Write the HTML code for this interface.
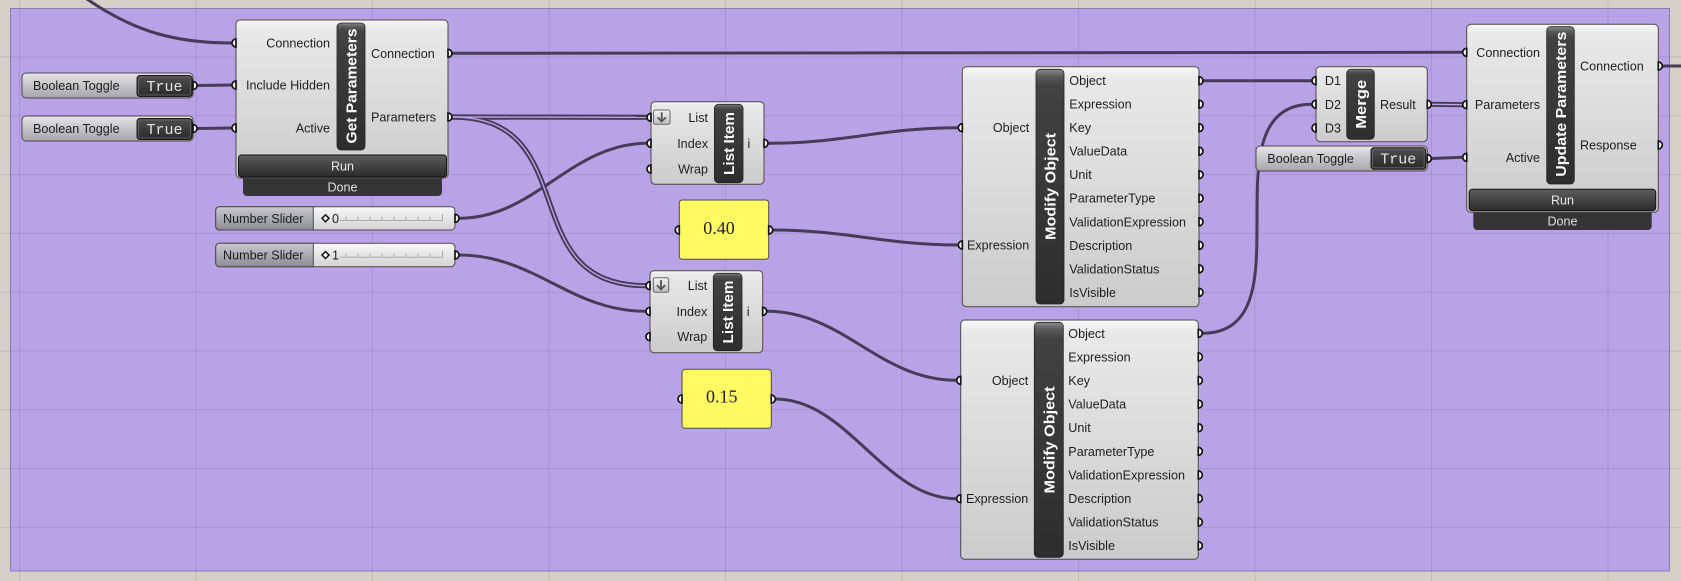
<!DOCTYPE html>
<html><head><meta charset="utf-8">
<style>
html,body{margin:0;padding:0;width:1681px;height:581px;overflow:hidden;background:#d4d0c8}
svg{display:block}
.l{font:12.6px "Liberation Sans",sans-serif;fill:#1e1e1e}
.t{font:bold 15px "Liberation Sans",sans-serif;fill:#fff}
.w{font:12.6px "Liberation Sans",sans-serif;fill:#e8e8e8}
.m{font:15px "Liberation Mono",monospace;fill:#e4e4e4}
.p{font:18px "Liberation Serif",serif;fill:#222}
</style></head><body>
<svg width="1681" height="581" viewBox="0 0 1681 581" xmlns="http://www.w3.org/2000/svg">
<defs>
<linearGradient id="gBody" x1="0" y1="0" x2="0" y2="1"><stop offset="0" stop-color="#f8f8f8"/><stop offset="0.05" stop-color="#e9e9e9"/><stop offset="1" stop-color="#cbcbcb"/></linearGradient>
<linearGradient id="gBar" x1="0" y1="0" x2="0" y2="1"><stop offset="0" stop-color="#8a8a8a"/><stop offset="0.03" stop-color="#5a5a5a"/><stop offset="0.07" stop-color="#424242"/><stop offset="1" stop-color="#2d2d2d"/></linearGradient>
<linearGradient id="gBtn" x1="0" y1="0" x2="0" y2="1"><stop offset="0" stop-color="#5e5e5e"/><stop offset="1" stop-color="#2a2a2a"/></linearGradient>
<linearGradient id="gTog" x1="0" y1="0" x2="0" y2="1"><stop offset="0" stop-color="#e6e6e8"/><stop offset="1" stop-color="#a4a4aa"/></linearGradient>
<linearGradient id="gTogV" x1="0" y1="0" x2="0" y2="1"><stop offset="0" stop-color="#505050"/><stop offset="1" stop-color="#282828"/></linearGradient>
<linearGradient id="gSlL" x1="0" y1="0" x2="0" y2="1"><stop offset="0" stop-color="#c8c8ce"/><stop offset="1" stop-color="#8c8c94"/></linearGradient>
<linearGradient id="gSlV" x1="0" y1="0" x2="0" y2="1"><stop offset="0" stop-color="#f8f8f8"/><stop offset="1" stop-color="#d2d2d2"/></linearGradient>
<linearGradient id="gIc" x1="0" y1="0" x2="0" y2="1"><stop offset="0" stop-color="#f4f4f4"/><stop offset="1" stop-color="#bdbdbd"/></linearGradient>
</defs>

<!-- background + group -->
<rect x="0" y="0" width="1681" height="581" fill="#d4d0c8"/>
<rect x="10.5" y="8.5" width="1659" height="562.5" fill="#b9a3e7" stroke="rgba(90,70,140,0.55)" stroke-width="1"/>

<!-- grid -->
<g stroke="rgba(0,0,0,0.09)" stroke-width="1">
<line x1="19.5" y1="0" x2="19.5" y2="581"/><line x1="196" y1="0" x2="196" y2="581"/><line x1="372.5" y1="0" x2="372.5" y2="581"/><line x1="549" y1="0" x2="549" y2="581"/><line x1="725.5" y1="0" x2="725.5" y2="581"/><line x1="902" y1="0" x2="902" y2="581"/><line x1="1078.5" y1="0" x2="1078.5" y2="581"/><line x1="1255" y1="0" x2="1255" y2="581"/><line x1="1431.5" y1="0" x2="1431.5" y2="581"/><line x1="1608" y1="0" x2="1608" y2="581"/>
<line x1="0" y1="57" x2="1681" y2="57"/><line x1="0" y1="115.8" x2="1681" y2="115.8"/><line x1="0" y1="174.6" x2="1681" y2="174.6"/><line x1="0" y1="233.4" x2="1681" y2="233.4"/><line x1="0" y1="292.2" x2="1681" y2="292.2"/><line x1="0" y1="351" x2="1681" y2="351"/><line x1="0" y1="409.8" x2="1681" y2="409.8"/><line x1="0" y1="468.6" x2="1681" y2="468.6"/><line x1="0" y1="527.4" x2="1681" y2="527.4"/>
</g>

<!-- wires -->
<g fill="none" stroke="#463c58" stroke-width="3" stroke-linecap="round">
<path d="M84,-3 C135,33 178,43 232,43"/>
<path d="M197,85.5 L232,85"/>
<path d="M197,128.5 L232,128"/>
<path d="M452,53.3 L1462.7,52.3"/>
<path d="M459,218.3 C535,218.3 571,143.3 647,143.3"/>
<path d="M459,255 C535,255 570,311.3 646,311.3"/>
<path d="M768,143.3 C845,143.3 882,127.7 958.3,127.7"/>
<path d="M772.7,230 C847,230 884,245 958.3,245"/>
<path d="M766.7,311.3 C844,311.3 879,380.3 956.7,380.3"/>
<path d="M775.3,399 C848,399 884,498.7 956.7,498.7"/>
<path d="M1203,80.7 L1312,80.7"/>
<path d="M1202.3,333.3 C1312,333.3 1202,104.3 1312,104.3"/>
<path d="M1431.3,158.5 L1462.7,157.3"/>
<path d="M1662.3,66 L1685,66"/>
</g>
<g fill="none" stroke="#463c58" stroke-width="5.2">
<path d="M452,117 L647,117.3"/>
<path d="M452,117 C587,117 511,285.7 646,285.7"/>
<path d="M1431.3,104.3 L1462.7,104.7"/>
</g>
<g fill="none" stroke="#b9a3e7" stroke-width="1.4">
<path d="M452,117 L647,117.3"/>
<path d="M452,117 C587,117 511,285.7 646,285.7"/>
<path d="M1431.3,104.3 L1462.7,104.7"/>
</g>

<!-- Boolean toggles -->
<g>
<rect x="22" y="73" width="171" height="25" rx="4" fill="url(#gTog)" stroke="#4a4a4a"/>
<text class="l" x="33" y="90">Boolean Toggle</text>
<rect x="137" y="75.5" width="55" height="21" rx="3" fill="url(#gTogV)" stroke="#1a1a1a"/>
<rect x="138.5" y="77" width="52" height="18" rx="2" fill="none" stroke="#6a6a6a" stroke-width="0.8"/>
<text class="m" x="164.5" y="91" text-anchor="middle">True</text>

<rect x="22" y="116" width="171" height="25" rx="4" fill="url(#gTog)" stroke="#4a4a4a"/>
<text class="l" x="33" y="133">Boolean Toggle</text>
<rect x="137" y="118.5" width="55" height="21" rx="3" fill="url(#gTogV)" stroke="#1a1a1a"/>
<rect x="138.5" y="120" width="52" height="18" rx="2" fill="none" stroke="#6a6a6a" stroke-width="0.8"/>
<text class="m" x="164.5" y="134" text-anchor="middle">True</text>

<rect x="1256" y="146" width="171.3" height="25" rx="4" fill="url(#gTog)" stroke="#4a4a4a"/>
<text class="l" x="1267.3" y="163">Boolean Toggle</text>
<rect x="1371" y="147.7" width="54.7" height="21.6" rx="3" fill="url(#gTogV)" stroke="#1a1a1a"/>
<rect x="1372.5" y="149.2" width="51.7" height="18.6" rx="2" fill="none" stroke="#6a6a6a" stroke-width="0.8"/>
<text class="m" x="1398.3" y="163.5" text-anchor="middle">True</text>
</g>

<!-- Get Parameters -->
<g>
<rect x="243" y="168" width="199" height="28" rx="4" fill="#353535"/>
<text class="w" x="342.5" y="191.5" text-anchor="middle" style="fill:#dedede">Done</text>
<rect x="236" y="20" width="212" height="158" rx="4" fill="url(#gBody)" stroke="#4a4a4a"/>
<rect x="337" y="23" width="28" height="127" rx="4" fill="url(#gBar)" stroke="#222" stroke-width="0.8"/>
<text class="t" transform="translate(356.5,86) rotate(-90)" text-anchor="middle" textLength="115" lengthAdjust="spacingAndGlyphs">Get Parameters</text>
<rect x="238.5" y="155" width="208" height="22" rx="3" fill="url(#gBtn)" stroke="#151515"/>
<text class="w" x="342.5" y="170.5" text-anchor="middle">Run</text>
<text class="l" x="330" y="47.5" text-anchor="end">Connection</text>
<text class="l" x="330" y="89.5" text-anchor="end">Include Hidden</text>
<text class="l" x="330" y="132.5" text-anchor="end">Active</text>
<text class="l" x="371" y="57.8">Connection</text>
<text class="l" x="371" y="121.5">Parameters</text>
</g>

<!-- Number sliders -->
<g>
<rect x="215.7" y="206.7" width="239.3" height="23.3" rx="4" fill="url(#gSlV)" stroke="#4a4a4a"/>
<path d="M313.3,206.7 L219.7,206.7 Q215.7,206.7 215.7,210.7 L215.7,226 Q215.7,230 219.7,230 L313.3,230 Z" fill="url(#gSlL)" stroke="#4a4a4a"/>
<text class="l" x="223" y="223">Number Slider</text>
<path d="M325.5,214.8 L329,218.3 L325.5,221.8 L322,218.3 Z" fill="#fff" stroke="#111" stroke-width="1.5"/>
<text class="l" x="332" y="223">0</text>
<g stroke="#aaa" stroke-width="1"><line x1="340" y1="220.5" x2="443" y2="220.5"/><line x1="346" y1="216.5" x2="346" y2="220.5"/><line x1="358" y1="216.5" x2="358" y2="220.5"/><line x1="370" y1="216.5" x2="370" y2="220.5"/><line x1="382" y1="216.5" x2="382" y2="220.5"/><line x1="394" y1="216.5" x2="394" y2="220.5"/><line x1="406" y1="216.5" x2="406" y2="220.5"/><line x1="418" y1="216.5" x2="418" y2="220.5"/><line x1="430" y1="216.5" x2="430" y2="220.5"/><line x1="442.5" y1="214" x2="442.5" y2="220.5"/></g>

<rect x="215.7" y="243.3" width="239.3" height="23.4" rx="4" fill="url(#gSlV)" stroke="#4a4a4a"/>
<path d="M313.3,243.3 L219.7,243.3 Q215.7,243.3 215.7,247.3 L215.7,262.7 Q215.7,266.7 219.7,266.7 L313.3,266.7 Z" fill="url(#gSlL)" stroke="#4a4a4a"/>
<text class="l" x="223" y="259.7">Number Slider</text>
<path d="M325.5,251.5 L329,255 L325.5,258.5 L322,255 Z" fill="#fff" stroke="#111" stroke-width="1.5"/>
<text class="l" x="332" y="259.7">1</text>
<g stroke="#aaa" stroke-width="1"><line x1="340" y1="257.2" x2="443" y2="257.2"/><line x1="346" y1="253.2" x2="346" y2="257.2"/><line x1="358" y1="253.2" x2="358" y2="257.2"/><line x1="370" y1="253.2" x2="370" y2="257.2"/><line x1="382" y1="253.2" x2="382" y2="257.2"/><line x1="394" y1="253.2" x2="394" y2="257.2"/><line x1="406" y1="253.2" x2="406" y2="257.2"/><line x1="418" y1="253.2" x2="418" y2="257.2"/><line x1="430" y1="253.2" x2="430" y2="257.2"/><line x1="442.5" y1="250.7" x2="442.5" y2="257.2"/></g>
</g>

<!-- List Item 1 -->
<g>
<rect x="651" y="101.7" width="113" height="82.6" rx="4" fill="url(#gBody)" stroke="#4a4a4a"/>
<rect x="714.4" y="104.3" width="28.6" height="78.4" rx="4" fill="url(#gBar)" stroke="#222" stroke-width="0.8"/>
<text class="t" transform="translate(734,143.5) rotate(-90)" text-anchor="middle" textLength="63" lengthAdjust="spacingAndGlyphs">List Item</text>
<rect x="653.5" y="110" width="16.5" height="14.3" rx="2" fill="url(#gIc)" stroke="#666"/>
<path d="M661.7,112.3 L661.7,121.5 M657.6,117.4 L661.7,121.5 L665.8,117.4" fill="none" stroke="#555" stroke-width="1.8"/>
<text class="l" x="708" y="121.8" text-anchor="end">List</text>
<text class="l" x="708" y="147.8" text-anchor="end">Index</text>
<text class="l" x="708" y="173.5" text-anchor="end">Wrap</text>
<text class="l" x="747.5" y="147.8">i</text>
</g>

<!-- List Item 2 -->
<g>
<rect x="650" y="270.7" width="112.7" height="82" rx="4" fill="url(#gBody)" stroke="#4a4a4a"/>
<rect x="713.3" y="273.3" width="28.7" height="77.4" rx="4" fill="url(#gBar)" stroke="#222" stroke-width="0.8"/>
<text class="t" transform="translate(733,312) rotate(-90)" text-anchor="middle" textLength="63" lengthAdjust="spacingAndGlyphs">List Item</text>
<rect x="653.3" y="277.7" width="15.4" height="14.6" rx="2" fill="url(#gIc)" stroke="#666"/>
<path d="M661,280 L661,289.3 M656.9,285.2 L661,289.3 L665.1,285.2" fill="none" stroke="#555" stroke-width="1.8"/>
<text class="l" x="707.3" y="290.2" text-anchor="end">List</text>
<text class="l" x="707.3" y="315.8" text-anchor="end">Index</text>
<text class="l" x="707.3" y="341.2" text-anchor="end">Wrap</text>
<text class="l" x="746.7" y="315.8">i</text>
</g>

<!-- Panels -->
<rect x="679.3" y="200" width="89.4" height="59.3" rx="3" fill="#fff962" stroke="#4a4a4a"/>
<text class="p" x="703.3" y="234">0.40</text>
<rect x="682" y="369.3" width="89.3" height="59" rx="3" fill="#fff962" stroke="#4a4a4a"/>
<text class="p" x="706" y="402.7">0.15</text>

<!-- Modify Object 1 -->
<g>
<rect x="962.3" y="66.7" width="236.7" height="240" rx="4" fill="url(#gBody)" stroke="#4a4a4a"/>
<rect x="1036" y="69.3" width="28" height="234.7" rx="4" fill="url(#gBar)" stroke="#222" stroke-width="0.8"/>
<text class="t" transform="translate(1055.5,186.5) rotate(-90)" text-anchor="middle" textLength="107" lengthAdjust="spacingAndGlyphs">Modify Object</text>
<text class="l" x="1029.3" y="132.2" text-anchor="end">Object</text>
<text class="l" x="1029.3" y="249.5" text-anchor="end">Expression</text>
<text class="l" x="1069.3" y="85.2">Object</text>
<text class="l" x="1069.3" y="108.7">Expression</text>
<text class="l" x="1069.3" y="132.2">Key</text>
<text class="l" x="1069.3" y="155.7">ValueData</text>
<text class="l" x="1069.3" y="179.2">Unit</text>
<text class="l" x="1069.3" y="202.7">ParameterType</text>
<text class="l" x="1069.3" y="226.3">ValidationExpression</text>
<text class="l" x="1069.3" y="249.8">Description</text>
<text class="l" x="1069.3" y="273.3">ValidationStatus</text>
<text class="l" x="1069.3" y="296.8">IsVisible</text>
</g>

<!-- Modify Object 2 -->
<g>
<rect x="960.7" y="320" width="237.6" height="239.3" rx="4" fill="url(#gBody)" stroke="#4a4a4a"/>
<rect x="1034.3" y="322.3" width="29" height="235" rx="4" fill="url(#gBar)" stroke="#222" stroke-width="0.8"/>
<text class="t" transform="translate(1054.3,440) rotate(-90)" text-anchor="middle" textLength="107" lengthAdjust="spacingAndGlyphs">Modify Object</text>
<text class="l" x="1028.3" y="384.8" text-anchor="end">Object</text>
<text class="l" x="1028.3" y="503.2" text-anchor="end">Expression</text>
<text class="l" x="1068.3" y="337.8">Object</text>
<text class="l" x="1068.3" y="361.4">Expression</text>
<text class="l" x="1068.3" y="385">Key</text>
<text class="l" x="1068.3" y="408.6">ValueData</text>
<text class="l" x="1068.3" y="432.2">Unit</text>
<text class="l" x="1068.3" y="455.8">ParameterType</text>
<text class="l" x="1068.3" y="479.4">ValidationExpression</text>
<text class="l" x="1068.3" y="503">Description</text>
<text class="l" x="1068.3" y="526.6">ValidationStatus</text>
<text class="l" x="1068.3" y="550.2">IsVisible</text>
</g>

<!-- Merge -->
<g>
<rect x="1316" y="66.7" width="111.3" height="75" rx="4" fill="url(#gBody)" stroke="#4a4a4a"/>
<rect x="1346.7" y="69.3" width="27.6" height="70" rx="4" fill="url(#gBar)" stroke="#222" stroke-width="0.8"/>
<text class="t" transform="translate(1366,104.3) rotate(-90)" text-anchor="middle" textLength="49" lengthAdjust="spacingAndGlyphs">Merge</text>
<text class="l" x="1341" y="85.2" text-anchor="end">D1</text>
<text class="l" x="1341" y="108.8" text-anchor="end">D2</text>
<text class="l" x="1341" y="132.5" text-anchor="end">D3</text>
<text class="l" x="1380" y="108.8">Result</text>
</g>

<!-- Update Parameters -->
<g>
<rect x="1473.3" y="202" width="178.4" height="28" rx="4" fill="#353535"/>
<text class="w" x="1562.5" y="225.5" text-anchor="middle" style="fill:#dedede">Done</text>
<rect x="1466.7" y="24.3" width="191.6" height="188" rx="4" fill="url(#gBody)" stroke="#4a4a4a"/>
<rect x="1546.7" y="26.7" width="27.6" height="157.3" rx="4" fill="url(#gBar)" stroke="#222" stroke-width="0.8"/>
<text class="t" transform="translate(1566,104.2) rotate(-90)" text-anchor="middle" textLength="145" lengthAdjust="spacingAndGlyphs">Update Parameters</text>
<rect x="1469.2" y="189.3" width="186.5" height="21.4" rx="3" fill="url(#gBtn)" stroke="#151515"/>
<text class="w" x="1562.5" y="204.5" text-anchor="middle">Run</text>
<text class="l" x="1540" y="56.8" text-anchor="end">Connection</text>
<text class="l" x="1540" y="109.2" text-anchor="end">Parameters</text>
<text class="l" x="1540" y="161.8" text-anchor="end">Active</text>
<text class="l" x="1580" y="70.5">Connection</text>
<text class="l" x="1580" y="149.5">Response</text>
</g>

<!-- input ports (left bulge) -->
<g fill="#fff" stroke="#111" stroke-width="1.7">
<path d="M236,39 A4,4 0 0 0 236,47 Z"/><path d="M236,81 A4,4 0 0 0 236,89 Z"/><path d="M236,124 A4,4 0 0 0 236,132 Z"/>
<path d="M1466.7,48.3 A4,4 0 0 0 1466.7,56.3 Z"/><path d="M1466.7,100.7 A4,4 0 0 0 1466.7,108.7 Z"/><path d="M1466.7,153.3 A4,4 0 0 0 1466.7,161.3 Z"/>
<path d="M962.3,123.7 A4,4 0 0 0 962.3,131.7 Z"/><path d="M962.3,241 A4,4 0 0 0 962.3,249 Z"/>
<path d="M960.7,376.3 A4,4 0 0 0 960.7,384.3 Z"/><path d="M960.7,494.7 A4,4 0 0 0 960.7,502.7 Z"/>
<path d="M1316,76.7 A4,4 0 0 0 1316,84.7 Z"/><path d="M1316,100.3 A4,4 0 0 0 1316,108.3 Z"/><path d="M1316,124 A4,4 0 0 0 1316,132 Z"/>
<path d="M651,113.3 A4,4 0 0 0 651,121.3 Z"/><path d="M651,139.3 A4,4 0 0 0 651,147.3 Z"/><path d="M651,165 A4,4 0 0 0 651,173 Z"/>
<path d="M650,281.7 A4,4 0 0 0 650,289.7 Z"/><path d="M650,307.3 A4,4 0 0 0 650,315.3 Z"/><path d="M650,332.7 A4,4 0 0 0 650,340.7 Z"/>
<path d="M679.3,226 A4,4 0 0 0 679.3,234 Z"/><path d="M682,395 A4,4 0 0 0 682,403 Z"/>
</g>
<!-- output ports (right bulge) -->
<g fill="#fff" stroke="#111" stroke-width="1.7">
<path d="M448,49.3 A4,4 0 0 1 448,57.3 Z"/><path d="M448,113 A4,4 0 0 1 448,121 Z"/>
<path d="M1658.3,62 A4,4 0 0 1 1658.3,70 Z"/><path d="M1658.3,141 A4,4 0 0 1 1658.3,149 Z"/>
<path d="M1199,76.7 A4,4 0 0 1 1199,84.7 Z"/><path d="M1199,100.2 A4,4 0 0 1 1199,108.2 Z"/><path d="M1199,123.7 A4,4 0 0 1 1199,131.7 Z"/><path d="M1199,147.2 A4,4 0 0 1 1199,155.2 Z"/><path d="M1199,170.7 A4,4 0 0 1 1199,178.7 Z"/><path d="M1199,194.2 A4,4 0 0 1 1199,202.2 Z"/><path d="M1199,217.8 A4,4 0 0 1 1199,225.8 Z"/><path d="M1199,241.3 A4,4 0 0 1 1199,249.3 Z"/><path d="M1199,264.8 A4,4 0 0 1 1199,272.8 Z"/><path d="M1199,288.3 A4,4 0 0 1 1199,296.3 Z"/>
<path d="M1198.3,329.3 A4,4 0 0 1 1198.3,337.3 Z"/><path d="M1198.3,352.9 A4,4 0 0 1 1198.3,360.9 Z"/><path d="M1198.3,376.5 A4,4 0 0 1 1198.3,384.5 Z"/><path d="M1198.3,400.1 A4,4 0 0 1 1198.3,408.1 Z"/><path d="M1198.3,423.7 A4,4 0 0 1 1198.3,431.7 Z"/><path d="M1198.3,447.3 A4,4 0 0 1 1198.3,455.3 Z"/><path d="M1198.3,470.9 A4,4 0 0 1 1198.3,478.9 Z"/><path d="M1198.3,494.5 A4,4 0 0 1 1198.3,502.5 Z"/><path d="M1198.3,518.1 A4,4 0 0 1 1198.3,526.1 Z"/><path d="M1198.3,541.7 A4,4 0 0 1 1198.3,549.7 Z"/>
<path d="M1427.3,100.3 A4,4 0 0 1 1427.3,108.3 Z"/>
<path d="M764,139.3 A4,4 0 0 1 764,147.3 Z"/><path d="M762.7,307.3 A4,4 0 0 1 762.7,315.3 Z"/>
<path d="M193,81.5 A4,4 0 0 1 193,89.5 Z"/><path d="M193,124.5 A4,4 0 0 1 193,132.5 Z"/><path d="M1427.3,154.5 A4,4 0 0 1 1427.3,162.5 Z"/>
<path d="M455,214.3 A4,4 0 0 1 455,222.3 Z"/><path d="M455,251 A4,4 0 0 1 455,259 Z"/>
<path d="M768.7,226 A4,4 0 0 1 768.7,234 Z"/><path d="M771.3,395 A4,4 0 0 1 771.3,403 Z"/>
</g>
</svg>
</body></html>
